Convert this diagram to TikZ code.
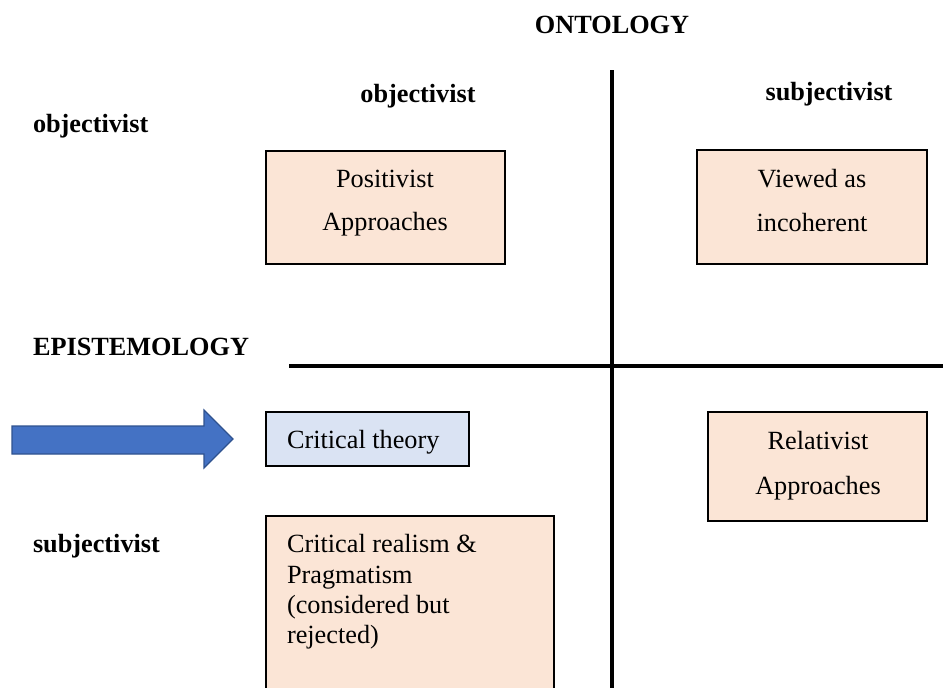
\documentclass[tikz,border=0pt]{standalone}
\usepackage{fontspec}
\setmainfont{Liberation Serif}
\definecolor{peach}{HTML}{FBE5D6}
\definecolor{paleblue}{HTML}{DAE3F3}
\definecolor{arrowfill}{HTML}{4472C4}
\definecolor{arrowline}{HTML}{2F528F}
\begin{document}
\begin{tikzpicture}[x=0.75pt,y=-0.75pt,
  every node/.style={inner sep=0pt,outer sep=0pt,font=\fontsize{19.7}{23}\selectfont},
  head/.style={font=\fontsize{19.7}{23}\selectfont\bfseries},
  axis/.style={line width=2.6pt,black},
  box/.style={draw=black,line width=1.8pt,rectangle},
  peachbox/.style={box,fill=peach},
  bluebox/.style={box,fill=paleblue},
  txt/.style={anchor=base},
  ltxt/.style={anchor=base west}]
\clip (0,0) rectangle (943,687);
\fill[white] (0,0) rectangle (943,687);

% axes of the grid
\coordinate (vtop) at (612,70);
\coordinate (vbot) at (612,700);
\coordinate (hleft) at (289,366);
\coordinate (hright) at (945,366);
\draw[axis] (vtop) -- (vbot);
\draw[axis] (hleft) -- (hright);

% headings
\node[head,txt] (onto) at (612,33) {ONTOLOGY};
\node[head,txt] (objtop) at (418,102) {objectivist};
\node[head,txt] (subtop) at (829,100) {subjectivist};
\node[head,ltxt] (objleft) at (33,132) {objectivist};
\node[head,ltxt] (episte) at (33,355) {EPISTEMOLOGY};
\node[head,ltxt] (subleft) at (33,552) {subjectivist};

% quadrant boxes
\path[peachbox] (266,151) rectangle (505,264) coordinate (posbox);
\node[txt] (pos1) at (385,187) {Positivist};
\node[txt] (pos2) at (385,230) {Approaches};

\path[peachbox] (697,150) rectangle (927,264) coordinate (viewbox);
\node[txt] (view1) at (812,187) {Viewed as};
\node[txt] (view2) at (812,231) {incoherent};

\path[bluebox] (266,412) rectangle (469,466) coordinate (critbox);
\node[ltxt] (crit) at (287,448) {Critical theory};

\path[peachbox] (708,412) rectangle (927,521) coordinate (relbox);
\node[txt] (rel1) at (818,449) {Relativist};
\node[txt] (rel2) at (818,494) {Approaches};

\path[peachbox] (266,516) rectangle (554,700) coordinate (realbox);
\node[ltxt] (real1) at (287,552) {Critical realism \&};
\node[ltxt] (real2) at (287,583) {Pragmatism};
\node[ltxt] (real3) at (287,613) {(considered but};
\node[ltxt] (real4) at (287,643) {rejected)};

% block arrow pointing at critical theory
\draw[fill=arrowfill,draw=arrowline,line width=0.9pt,line join=miter]
  (12,426) -- (204,426) -- (204,410) -- (233,439) -- (204,468)
  -- (204,454) -- (12,454) -- cycle;
\end{tikzpicture}
\end{document}
